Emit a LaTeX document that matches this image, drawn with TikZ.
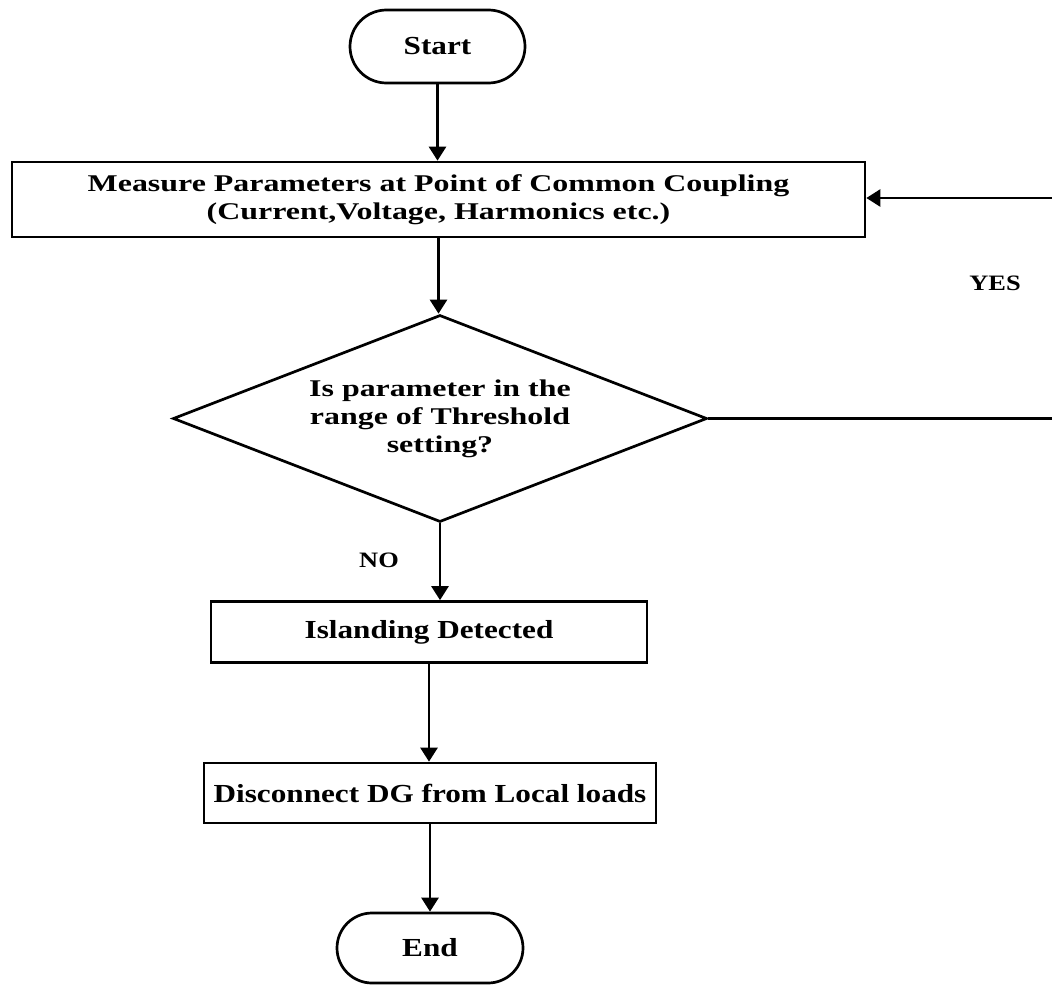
\documentclass[tikz,border=0pt]{standalone}
\usepackage{fontspec}
\setmainfont{Liberation Serif}[FakeStretch=1.2]
\newfontfamily\widefont{Liberation Serif}[FakeStretch=1.33]
\usetikzlibrary{shapes.geometric,shapes.misc,arrows.meta}
\begin{document}
\begin{tikzpicture}[x=1pt,y=-1pt,
  box/.style={draw,line width=2.7pt,rectangle,inner sep=0pt,align=center,font=\fontsize{26}{30}\selectfont\bfseries},
  widetext/.style={font=\widefont\fontsize{24}{28}\selectfont\bfseries},
  term/.style={box,rounded rectangle},
  decision/.style={box,diamond,aspect=2.58},
  arr/.style={line width=2.7pt,-{Triangle[length=14pt,width=17pt]}},
  lbl/.style={font=\fontsize{22}{26}\selectfont\bfseries}]
\useasboundingbox (0,0) rectangle (1052,985);
\clip (0,0) rectangle (1052,985);
\node[term,minimum width=175pt,minimum height=73pt] (start) at (437.5,46.5) {Start};
\node[box,widetext,minimum width=853pt,minimum height=75pt] (measure) at (438.5,199.5)
  {Measure Parameters at Point of Common Coupling\\(Current,Voltage, Harmonics etc.)};
\node[decision,widetext,minimum width=534pt,minimum height=207pt] (dec) at (440,418.5)
  {Is parameter in the\\range of Threshold\\setting?};
\node[box,minimum width=436pt,minimum height=61pt] (isl) at (429,632) {Islanding Detected};
\node[box,minimum width=452pt,minimum height=60pt] (disc) at (430,793) {Disconnect DG from Local loads};
\node[term,minimum width=186pt,minimum height=70pt] (end) at (430,948) {End};
\node[lbl] (yes) at (995,283) {YES};
\node[lbl] (no) at (379,560) {NO};
\coordinate (r1) at (1070,418.5);
\coordinate (r2) at (1070,198);
\draw[arr] (start.south) -- (start.south |- measure.north);
\draw[arr] (measure.south) -- (measure.south |- dec.north);
\draw[arr] (dec.south) -- (dec.south |- isl.north);
\draw[arr] (isl.south) -- (isl.south |- disc.north);
\draw[arr] (disc.south) -- (disc.south |- end.north);
\draw[arr] (dec.east) -- (r1) -- (r2) -- (r2 -| measure.east);
\end{tikzpicture}
\end{document}
